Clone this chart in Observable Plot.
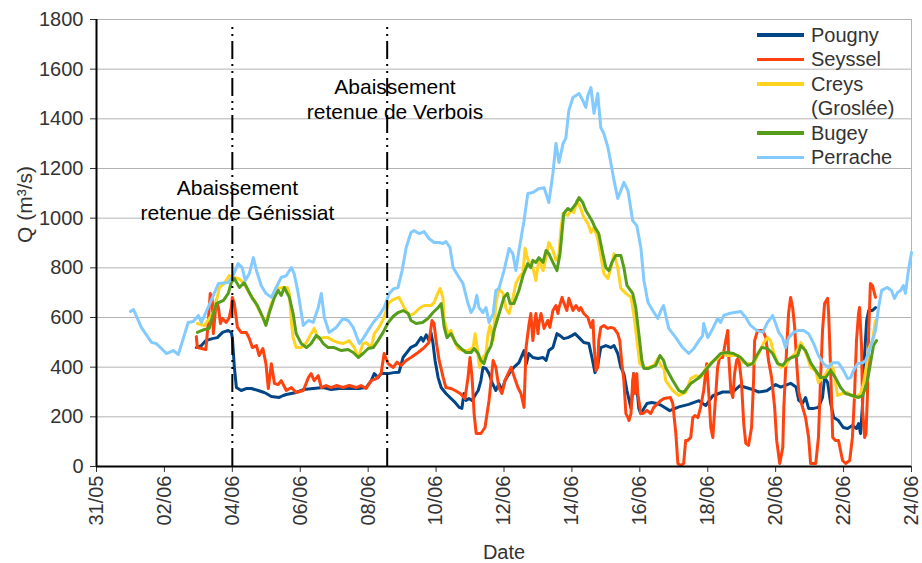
<!DOCTYPE html>
<html><head><meta charset="utf-8">
<script src="https://cdn.jsdelivr.net/npm/d3@7"></script>
<script src="https://cdn.jsdelivr.net/npm/@observablehq/plot@0.6"></script>
<style>
body{margin:0;background:#fff;font-family:"Liberation Sans",Arial,sans-serif;}
#wrap{position:relative;width:922px;height:563px;}
#legend{position:absolute;left:757px;top:22.75px;font-size:20px;line-height:24.5px;color:#333;}
#legend .row{position:relative;padding-left:54px;white-space:nowrap;}
#legend .sw{position:absolute;left:0;top:10.5px;width:47px;height:3.5px;}
</style></head><body><div id="wrap"></div>
<script>
// ---- data: [day offset from 31/05 00:00, Q m3/s]
const seriesNames = ["Pougny","Seyssel","Creys\n(Groslée)","Bugey","Perrache"];
const seriesColors = ["#004586","#ff420e","#ffd320","#579d1c","#83caff"];

const pougny = [[2.94,479],[3.09,487],[3.22,507],[3.41,515],[3.56,519],[3.71,540],[3.88,548],[3.97,540],[4.0,519],[4.06,399],[4.12,318],[4.26,306],[4.41,314],[4.56,314],[4.76,306],[4.94,298],[5.0,294],[5.15,282],[5.38,278],[5.5,286],[5.59,290],[5.88,298],[6.09,310],[6.38,314],[6.68,318],[6.91,310],[7.15,314],[7.44,314],[7.71,314],[7.94,318],[8.09,346],[8.18,374],[8.29,358],[8.38,374],[8.59,374],[8.75,378],[8.91,380],[9.03,440],[9.26,480],[9.41,490],[9.56,520],[9.62,505],[9.71,530],[9.79,507],[9.85,540],[9.91,495],[9.97,427],[10.06,358],[10.15,318],[10.29,294],[10.44,274],[10.56,258],[10.68,238],[10.76,234],[10.82,294],[10.88,266],[10.97,274],[11.06,266],[11.18,294],[11.24,306],[11.32,346],[11.38,399],[11.47,395],[11.56,374],[11.65,338],[11.76,306],[11.85,334],[11.94,306],[12.03,346],[12.15,374],[12.29,399],[12.44,418],[12.59,467],[12.66,414],[12.73,455],[12.85,439],[13.0,435],[13.15,439],[13.24,427],[13.32,467],[13.44,479],[13.56,535],[13.65,527],[13.76,515],[13.88,519],[14.0,527],[14.09,535],[14.21,519],[14.35,499],[14.5,495],[14.59,439],[14.68,378],[14.76,407],[14.85,479],[15.0,487],[15.15,479],[15.24,487],[15.35,455],[15.44,399],[15.53,374],[15.62,306],[15.74,234],[15.79,306],[15.82,374],[15.88,318],[15.94,278],[15.97,234],[16.03,213],[16.12,234],[16.21,254],[16.35,258],[16.5,254],[16.65,245],[16.88,225],[17.15,240],[17.44,250],[17.74,265],[17.94,245],[18.15,285],[18.44,300],[18.74,300],[18.94,325],[19.12,318],[19.32,310],[19.5,300],[19.74,305],[20.0,330],[20.15,320],[20.44,335],[20.6,320],[20.68,266],[20.79,254],[20.88,278],[20.97,234],[21.12,234],[21.26,238],[21.38,278],[21.44,358],[21.53,338],[21.62,254],[21.71,197],[21.85,185],[21.99,157],[22.12,153],[22.26,165],[22.38,153],[22.44,173],[22.5,133],[22.56,254],[22.62,455],[22.68,588],[22.74,628],[22.85,628],[22.94,640]];

const seyssel = [[2.94,523],[2.97,479],[3.09,475],[3.22,471],[3.29,580],[3.35,697],[3.41,669],[3.44,535],[3.53,669],[3.59,640],[3.65,576],[3.71,596],[3.82,580],[3.91,600],[3.97,640],[4.0,681],[4.06,656],[4.15,560],[4.26,540],[4.41,540],[4.5,515],[4.59,479],[4.71,487],[4.79,447],[4.9,475],[4.99,414],[5.06,314],[5.15,414],[5.24,334],[5.35,330],[5.44,346],[5.59,306],[5.74,318],[5.88,298],[6.09,306],[6.24,358],[6.32,374],[6.41,346],[6.53,366],[6.62,318],[6.76,326],[6.91,318],[7.06,326],[7.26,318],[7.44,326],[7.65,318],[7.79,326],[7.94,314],[8.09,346],[8.24,354],[8.38,374],[8.47,455],[8.59,414],[8.74,399],[8.85,420],[8.97,407],[9.12,427],[9.26,439],[9.47,459],[9.65,479],[9.79,499],[9.88,588],[9.94,576],[10.0,507],[10.09,427],[10.21,358],[10.29,318],[10.44,314],[10.56,306],[10.71,294],[10.85,274],[10.94,358],[11.0,439],[11.06,358],[11.12,213],[11.18,133],[11.32,133],[11.44,157],[11.56,266],[11.68,427],[11.76,399],[11.85,318],[11.94,294],[12.03,346],[12.12,374],[12.21,399],[12.29,366],[12.41,318],[12.5,294],[12.59,238],[12.65,479],[12.74,576],[12.79,616],[12.85,507],[12.91,588],[12.94,616],[13.0,535],[13.03,576],[13.09,616],[13.18,556],[13.29,588],[13.35,560],[13.44,628],[13.53,648],[13.59,616],[13.62,640],[13.71,681],[13.76,660],[13.85,628],[13.91,677],[14.03,628],[14.12,648],[14.21,628],[14.26,640],[14.35,616],[14.47,600],[14.56,560],[14.62,588],[14.65,495],[14.71,386],[14.76,399],[14.79,507],[14.85,560],[14.94,568],[15.06,556],[15.15,560],[15.24,556],[15.35,535],[15.41,507],[15.47,414],[15.53,346],[15.59,213],[15.65,197],[15.68,185],[15.74,213],[15.79,346],[15.82,374],[15.85,294],[15.91,374],[15.94,294],[16.03,213],[16.09,213],[16.21,226],[16.32,213],[16.41,238],[16.53,254],[16.62,266],[16.71,274],[16.9,278],[16.97,254],[17.06,133],[17.12,12],[17.21,4],[17.29,12],[17.35,105],[17.41,105],[17.5,117],[17.56,197],[17.62,205],[17.71,197],[17.79,238],[17.88,306],[17.97,414],[18.03,294],[18.09,157],[18.15,117],[18.21,238],[18.29,399],[18.35,439],[18.44,439],[18.53,507],[18.59,548],[18.62,439],[18.68,306],[18.74,278],[18.79,374],[18.85,427],[18.91,439],[18.99,346],[19.06,173],[19.12,93],[19.2,85],[19.29,157],[19.35,346],[19.38,507],[19.47,548],[19.62,548],[19.71,519],[19.79,427],[19.88,358],[19.97,238],[20.03,105],[20.12,12],[20.21,77],[20.24,238],[20.32,467],[20.38,616],[20.44,681],[20.5,640],[20.56,560],[20.62,414],[20.68,300],[20.76,254],[20.88,197],[20.97,117],[21.03,12],[21.18,12],[21.26,117],[21.32,346],[21.38,548],[21.44,656],[21.53,677],[21.56,616],[21.62,386],[21.68,117],[21.76,105],[21.85,105],[21.97,24],[22.06,12],[22.18,24],[22.26,117],[22.32,278],[22.38,507],[22.44,616],[22.47,640],[22.53,479],[22.56,226],[22.62,117],[22.66,133],[22.7,278],[22.74,548],[22.79,737],[22.85,729],[22.91,697],[22.94,681]];

const creys = [[2.97,576],[3.18,568],[3.32,596],[3.47,628],[3.62,721],[3.76,737],[3.91,769],[4.03,761],[4.18,757],[4.32,741],[4.41,721],[4.5,697],[4.65,669],[4.79,628],[4.9,596],[4.99,580],[5.15,656],[5.35,717],[5.5,721],[5.62,721],[5.68,697],[5.74,580],[5.79,519],[5.88,479],[6.03,479],[6.18,499],[6.32,535],[6.41,556],[6.53,515],[6.68,519],[6.82,519],[6.97,507],[7.12,499],[7.26,495],[7.44,507],[7.59,479],[7.71,439],[7.85,495],[7.94,499],[8.09,479],[8.18,535],[8.32,560],[8.47,600],[8.59,656],[8.7,669],[8.82,677],[8.91,681],[9.06,640],[9.21,608],[9.35,616],[9.5,636],[9.65,648],[9.85,648],[9.94,660],[10.06,701],[10.12,717],[10.2,681],[10.24,588],[10.35,535],[10.44,548],[10.53,507],[10.65,475],[10.79,467],[10.94,467],[11.09,479],[11.15,535],[11.22,467],[11.28,399],[11.38,439],[11.47,455],[11.53,535],[11.59,568],[11.68,507],[11.76,656],[11.85,717],[11.97,697],[12.06,636],[12.15,616],[12.26,677],[12.35,737],[12.44,761],[12.56,781],[12.62,878],[12.71,830],[12.85,801],[12.94,749],[13.03,838],[13.15,789],[13.24,841],[13.32,902],[13.44,870],[13.53,830],[13.62,857],[13.68,962],[13.74,1019],[13.88,1011],[13.97,1031],[14.06,1023],[14.15,1071],[14.26,1039],[14.35,1003],[14.47,979],[14.56,942],[14.65,962],[14.76,918],[14.85,850],[14.94,777],[15.06,757],[15.15,801],[15.24,857],[15.35,801],[15.44,717],[15.59,697],[15.74,681],[15.82,616],[15.94,479],[16.0,414],[16.12,399],[16.26,399],[16.41,407],[16.53,435],[16.62,407],[16.71,395],[16.76,346],[16.97,306],[17.15,286],[17.35,298],[17.5,354],[17.65,366],[17.79,358],[17.94,395],[18.09,418],[18.29,435],[18.44,459],[18.56,447],[18.71,447],[18.91,447],[19.06,418],[19.21,414],[19.35,414],[19.5,455],[19.65,499],[19.76,519],[19.85,507],[19.94,459],[20.06,418],[20.15,399],[20.29,407],[20.44,439],[20.59,455],[20.68,479],[20.74,499],[20.82,479],[20.94,439],[21.03,399],[21.18,386],[21.26,338],[21.38,358],[21.5,378],[21.62,414],[21.71,386],[21.82,286],[21.97,294],[22.12,298],[22.21,286],[22.35,278],[22.5,294],[22.59,334],[22.68,414],[22.74,475],[22.85,507],[22.88,535],[22.94,588]];

const bugey = [[2.97,540],[3.18,552],[3.32,556],[3.44,616],[3.53,656],[3.74,669],[3.88,697],[3.97,741],[4.06,757],[4.21,721],[4.35,741],[4.44,717],[4.59,677],[4.74,648],[4.9,600],[4.99,568],[5.09,620],[5.24,681],[5.35,709],[5.44,689],[5.53,721],[5.68,681],[5.79,616],[5.88,535],[6.03,495],[6.18,479],[6.32,495],[6.47,527],[6.56,519],[6.68,495],[6.82,479],[7.0,479],[7.21,467],[7.41,471],[7.56,459],[7.71,439],[7.85,455],[8.0,475],[8.15,479],[8.29,507],[8.44,540],[8.59,580],[8.74,605],[8.88,620],[9.03,628],[9.18,616],[9.26,588],[9.41,576],[9.6,580],[9.76,596],[9.91,620],[10.06,640],[10.15,656],[10.24,560],[10.32,519],[10.44,535],[10.59,495],[10.74,475],[10.88,459],[11.03,459],[11.12,475],[11.24,455],[11.32,427],[11.41,414],[11.5,455],[11.62,487],[11.71,548],[11.82,600],[11.91,640],[12.0,681],[12.1,697],[12.18,656],[12.29,656],[12.44,709],[12.56,769],[12.7,817],[12.79,801],[12.85,830],[12.94,822],[13.03,841],[13.15,822],[13.24,870],[13.32,857],[13.44,822],[13.56,789],[13.65,857],[13.76,1019],[13.88,1039],[13.97,1031],[14.12,1059],[14.21,1083],[14.32,1063],[14.41,1031],[14.5,1011],[14.59,990],[14.68,962],[14.79,938],[14.91,857],[15.0,801],[15.09,789],[15.18,822],[15.29,850],[15.44,850],[15.53,801],[15.62,729],[15.79,697],[15.88,640],[15.97,535],[16.06,427],[16.12,395],[16.26,395],[16.47,407],[16.59,447],[16.7,427],[16.76,399],[16.97,346],[17.15,306],[17.29,298],[17.5,334],[17.71,354],[17.85,374],[18.0,399],[18.18,427],[18.38,455],[18.56,459],[18.76,455],[18.97,439],[19.18,407],[19.32,414],[19.44,447],[19.59,479],[19.76,475],[19.91,455],[20.06,414],[20.21,407],[20.32,427],[20.47,439],[20.65,447],[20.74,487],[20.88,467],[21.03,418],[21.18,386],[21.32,358],[21.47,358],[21.62,386],[21.76,358],[21.91,318],[22.06,294],[22.26,286],[22.44,278],[22.56,286],[22.65,318],[22.74,374],[22.82,439],[22.88,487],[22.97,507]];

const perrache = [[1.0,624],[1.09,632],[1.32,560],[1.62,500],[1.76,495],[1.91,475],[2.06,455],[2.26,467],[2.41,451],[2.6,535],[2.7,580],[2.85,584],[3.0,608],[3.09,580],[3.35,660],[3.59,737],[3.88,741],[4.0,762],[4.17,817],[4.29,801],[4.38,749],[4.5,777],[4.62,841],[4.71,789],[4.85,729],[4.99,697],[5.15,681],[5.29,721],[5.44,761],[5.59,769],[5.74,801],[5.82,777],[5.94,697],[6.09,568],[6.24,588],[6.38,580],[6.53,640],[6.62,697],[6.71,600],[6.85,540],[7.06,560],[7.26,596],[7.41,588],[7.56,560],[7.74,495],[7.85,515],[8.0,548],[8.15,580],[8.32,608],[8.47,640],[8.62,697],[8.74,715],[8.88,721],[9.0,789],[9.12,882],[9.26,942],[9.35,950],[9.5,938],[9.65,946],[9.79,918],[9.94,902],[10.09,902],[10.21,898],[10.29,906],[10.41,882],[10.5,801],[10.64,769],[10.79,737],[10.94,656],[11.03,620],[11.12,640],[11.2,689],[11.26,640],[11.38,620],[11.47,640],[11.56,580],[11.68,616],[11.76,709],[11.85,717],[12.0,789],[12.15,878],[12.26,857],[12.35,789],[12.44,870],[12.59,990],[12.7,1099],[12.85,1103],[13.03,1119],[13.18,1123],[13.32,1063],[13.44,1180],[13.53,1301],[13.62,1224],[13.74,1301],[13.82,1321],[13.91,1434],[14.03,1486],[14.21,1502],[14.32,1474],[14.41,1446],[14.47,1494],[14.56,1526],[14.65,1422],[14.76,1502],[14.85,1365],[14.94,1341],[15.06,1285],[15.15,1220],[15.24,1152],[15.35,1079],[15.44,1111],[15.53,1144],[15.65,1111],[15.79,990],[15.91,970],[16.03,882],[16.12,749],[16.24,660],[16.38,628],[16.53,596],[16.62,628],[16.7,648],[16.85,556],[17.06,519],[17.26,479],[17.44,455],[17.59,475],[17.74,507],[17.85,527],[17.88,576],[18.0,519],[18.15,556],[18.29,596],[18.38,580],[18.47,608],[18.62,616],[18.79,620],[18.97,624],[19.12,600],[19.26,568],[19.44,548],[19.62,540],[19.76,580],[19.91,608],[20.0,576],[20.09,540],[20.2,519],[20.29,479],[20.38,519],[20.53,540],[20.68,548],[20.82,548],[20.97,535],[21.12,495],[21.26,447],[21.41,414],[21.56,399],[21.68,418],[21.85,418],[22.0,386],[22.12,354],[22.21,358],[22.29,386],[22.41,414],[22.56,418],[22.65,427],[22.79,479],[22.94,548],[23.03,640],[23.12,709],[23.29,721],[23.41,709],[23.5,677],[23.59,701],[23.68,709],[23.76,729],[23.82,697],[23.91,789],[24.0,862]];

const xTickDays = [0,2,4,6,8,10,12,14,16,18,20,22,24];
const yTicks = [0,200,400,600,800,1000,1200,1400,1600,1800];
const yLabel = "Q (m³/s)";
const xLabel = "Date";
const eventDays = [4.0, 8.56];
const noteDays = [4.15, 8.79];
const noteQ = [1077, 1482];
const noteTexts = ["Abaissement\nretenue de Génissiat", "Abaissement\nretenue de Verbois"];

// ---- build
const origin = Date.UTC(2013, 4, 31);
const toDate = d => new Date(origin + d * 864e5);
const allSeries = [pougny, seyssel, creys, bugey, perrache];

const lineMarks = allSeries.map((s, i) =>
  Plot.line(s, {x: d => toDate(d[0]), y: d => d[1], stroke: seriesColors[i], strokeWidth: 3, strokeLinejoin: "round", strokeLinecap: "round"})
);

const chart = Plot.plot({
  width: 922, height: 563,
  marginLeft: 96, marginRight: 11, marginTop: 19, marginBottom: 97,
  style: {fontFamily: "'Liberation Sans', Arial, sans-serif", fontSize: "20px", color: "#333", background: "white"},
  x: {type: "utc", domain: [toDate(0), toDate(24)]},
  y: {domain: [0, 1800]},
  marks: [
    Plot.gridY(yTicks.filter(v => v > 0), {stroke: "#b3b3b3", strokeOpacity: 1, strokeWidth: 1}),
    Plot.ruleX([toDate(24)], {stroke: "#b3b3b3", strokeWidth: 1}),
    Plot.axisY({ticks: yTicks, tickFormat: d => String(d), tickSize: 6, tickPadding: 7, fontSize: 20, stroke: "#333", label: null}),
    Plot.axisX({ticks: xTickDays.map(toDate), tickFormat: d3.utcFormat("%d/%m"), tickRotate: -90,
      tickSize: 6, tickPadding: 3, fontSize: 20, stroke: "#333", label: null}),
    ...lineMarks,
    Plot.ruleX(eventDays.map(toDate), {y1: 0, y2: 1770, stroke: "black", strokeWidth: 2, strokeDasharray: "18,5,2,5,2,5"}),
    Plot.ruleY([0], {stroke: "black", strokeWidth: 2}),
    Plot.ruleX([toDate(0)], {stroke: "black", strokeWidth: 2}),
    Plot.text(noteTexts, {x: (d, i) => toDate(noteDays[i]), y: (d, i) => noteQ[i], text: d => d,
      fontSize: 21, lineHeight: 1.19, fill: "black", textAnchor: "middle"}),
    Plot.text([yLabel], {frameAnchor: "left", rotate: -90, dx: -71, fontSize: 21, fill: "#333", text: d => d}),
    Plot.text([xLabel], {frameAnchor: "bottom", dy: 92, fontSize: 20, fill: "#333", text: d => d})
  ]
});

const wrap = document.getElementById("wrap");
wrap.appendChild(chart);

// legend
const leg = document.createElement("div");
leg.id = "legend";
seriesNames.forEach((n, i) => {
  const row = document.createElement("div");
  row.className = "row";
  const sw = document.createElement("div");
  sw.className = "sw";
  sw.style.background = seriesColors[i];
  row.appendChild(sw);
  n.split("\n").forEach((t, j) => {
    if (j) row.appendChild(document.createElement("br"));
    row.appendChild(document.createTextNode(t));
  });
  leg.appendChild(row);
});
wrap.appendChild(leg);
</script>
</body></html>
